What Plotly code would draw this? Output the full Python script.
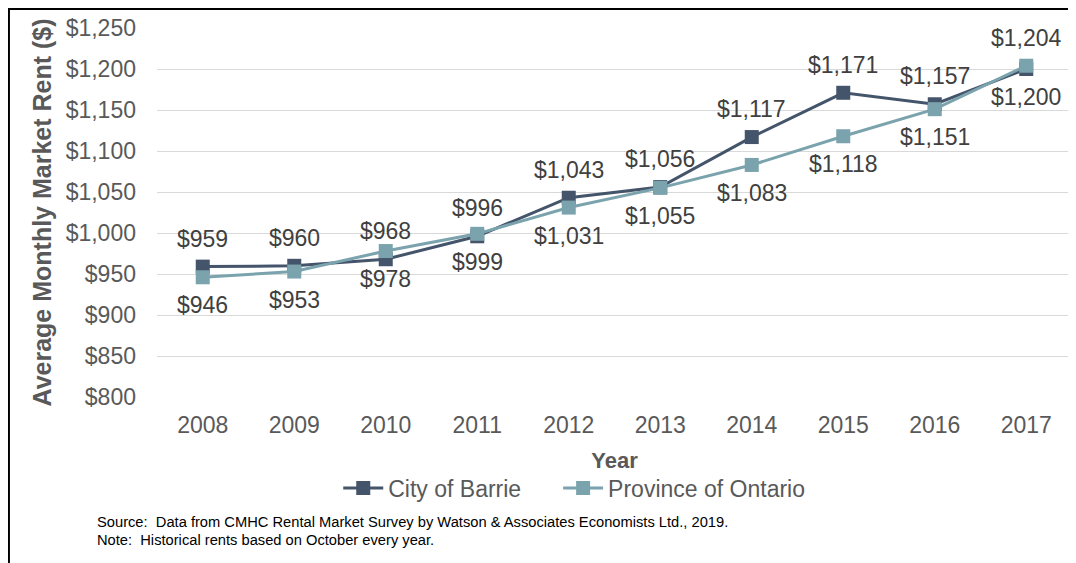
import plotly.graph_objects as go

years = [2008, 2009, 2010, 2011, 2012, 2013, 2014, 2015, 2016, 2017]
barrie = [959, 960, 968, 996, 1043, 1056, 1117, 1171, 1157, 1200]
ontario = [946, 953, 978, 999, 1031, 1055, 1083, 1118, 1151, 1204]
# +1 = label above the point, -1 = below
barrie_label_side = [1, 1, 1, 1, 1, 1, 1, 1, 1, -1]
ontario_label_side = [-1, -1, -1, -1, -1, -1, -1, -1, -1, 1]
y_ticks = list(range(800, 1251, 50))

FONT = "Liberation Sans, Arial, sans-serif"
GREY = "#595959"
DARK = "#44546A"
LIGHT = "#7BA3AD"

fig = go.Figure()

# trailing non-breaking spaces widen the gap between legend entries
fig.add_trace(go.Scatter(
    x=years, y=barrie, name="City of Barrie" + "\u00a0" * 5, mode="lines+markers",
    line=dict(color=DARK, width=3),
    marker=dict(symbol="square", size=14, color=DARK)
))
fig.add_trace(go.Scatter(
    x=years, y=ontario, name="Province of Ontario", mode="lines+markers",
    line=dict(color=LIGHT, width=3),
    marker=dict(symbol="square", size=14, color=LIGHT)
))

# data labels
annotations = []
for vals, sides in ((barrie, barrie_label_side), (ontario, ontario_label_side)):
    for yr, v, s in zip(years, vals, sides):
        annotations.append(dict(
            x=yr, y=v, text=f"${v:,}", showarrow=False,
            yshift=28 * s, font=dict(family=FONT, size=23, color="#404040")
        ))

annotations.append(dict(
    xref="paper", yref="paper", x=-0.068, y=-0.339, xanchor="left", yanchor="middle",
    text="Source:  Data from CMHC Rental Market Survey by Watson & Associates Economists Ltd., 2019.",
    showarrow=False, font=dict(family=FONT, size=14.7, color="black")
))
annotations.append(dict(
    xref="paper", yref="paper", x=-0.068, y=-0.388, xanchor="left", yanchor="middle",
    text="Note:  Historical rents based on October every year.",
    showarrow=False, font=dict(family=FONT, size=14.7, color="black")
))
# y axis title
annotations.append(dict(
    xref="paper", yref="paper", x=-0.1257, y=0.5, xanchor="center", yanchor="middle",
    text="<b>Average Monthly Market Rent ($)</b>", textangle=-90,
    showarrow=False, font=dict(family=FONT, size=25, color=GREY)
))

# page has an 8px body margin, so the figure is 8px smaller on each side
fig.update_layout(
    width=1068, height=555,
    margin=dict(l=149, r=4, t=20, b=166, autoexpand=False),
    paper_bgcolor="white", plot_bgcolor="white",
    font=dict(family=FONT, size=20, color=GREY),
    showlegend=True,
    legend=dict(orientation="h", x=0.456, xanchor="center", y=-0.247, yanchor="middle",
                font=dict(size=23, color=GREY), itemwidth=40, tracegroupgap=0),
    annotations=annotations,
    shapes=[
        dict(type="line", xref="paper", yref="paper", x0=-0.1618, x1=-0.1618, y0=1.06, y1=-0.5,
             line=dict(color="black", width=2)),
        dict(type="line", xref="paper", yref="paper", x0=-0.1618, x1=0.996, y0=1.0515, y1=1.0515,
             line=dict(color="black", width=2)),
    ],
)

fig.update_xaxes(
    range=[2007.5, 2017.5], tickvals=years, showgrid=False, showline=False, ticks="",
    zeroline=False, automargin=False,
    tickfont=dict(size=23, color=GREY), ticklabelstandoff=12,
    title=dict(text="<b>Year</b>", font=dict(size=22, color=GREY), standoff=15)
)
fig.update_yaxes(
    range=[800, 1250], tickvals=y_ticks, ticktext=[f"${v:,}" for v in y_ticks],
    showgrid=True, gridcolor="#D9D9D9", gridwidth=1, zeroline=False, showline=False,
    automargin=False,
    tickfont=dict(size=23, color=GREY), ticklabelstandoff=20
)

fig.write_html("out.html")
